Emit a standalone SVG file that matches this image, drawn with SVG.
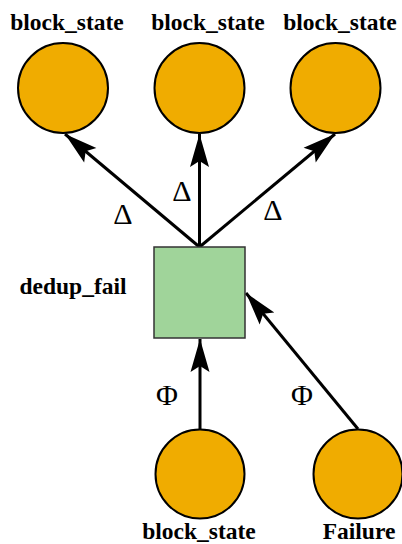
<svg xmlns="http://www.w3.org/2000/svg" width="402" height="544" viewBox="0 0 402 544">
<style>
.st{fill:#f0ac00;stroke:#000;stroke-width:2}
.lbl{font-family:'Liberation Serif','Times New Roman',Times,serif;font-weight:700;font-size:23.5px;fill:#000;text-anchor:middle}
.sym{font-family:'Liberation Serif','Times New Roman',Times,serif;font-size:30px;fill:#000;text-anchor:middle}
.e{stroke:#000;stroke-width:3;fill:none;marker-end:url(#ah)}
</style>
<defs>
<marker id="ah" markerUnits="userSpaceOnUse" markerWidth="40" markerHeight="24" viewBox="-34 -12 36 24" refX="0" refY="0" orient="auto">
<path d="M0,0 L-33,-9.5 L-27,0 L-33,9.5 Z" fill="#000"/>
</marker>
</defs>
<rect width="402" height="544" fill="#fff"/>
<g id="edges">
<line class="e" x1="199.5" y1="247" x2="65" y2="134"/>
<line class="e" x1="199.5" y1="247" x2="199.5" y2="134"/>
<line class="e" x1="199.5" y1="247" x2="335" y2="134"/>
<line class="e" x1="200" y1="429" x2="200" y2="339"/>
<line class="e" x1="358" y1="429" x2="246" y2="293"/>
<text class="sym" x="123" y="224">Δ</text>
<text class="sym" x="182" y="201">Δ</text>
<text class="sym" x="273" y="220">Δ</text>
<text class="sym" x="167" y="405">Φ</text>
<text class="sym" x="302" y="405">Φ</text>
</g>
<g id="bs1">
<circle class="st" cx="63" cy="88" r="45"/>
<text class="lbl" x="67" y="30">block_state</text>
</g>
<g id="bs2">
<circle class="st" cx="199.5" cy="88" r="45"/>
<text class="lbl" x="208" y="30">block_state</text>
</g>
<g id="bs3">
<circle class="st" cx="335.5" cy="88" r="45"/>
<text class="lbl" x="340" y="30">block_state</text>
</g>
<g id="dedup_fail">
<rect x="154" y="247" width="91" height="91" fill="#a0d49a" stroke="#333" stroke-width="1.5"/>
<text class="lbl" x="73" y="294">dedup_fail</text>
</g>
<g id="bs4">
<circle class="st" cx="200" cy="474" r="44.5"/>
<text class="lbl" x="199" y="539">block_state</text>
</g>
<g id="failure">
<circle class="st" cx="358" cy="474" r="44.5"/>
<text class="lbl" x="359" y="539">Failure</text>
</g>
</svg>
